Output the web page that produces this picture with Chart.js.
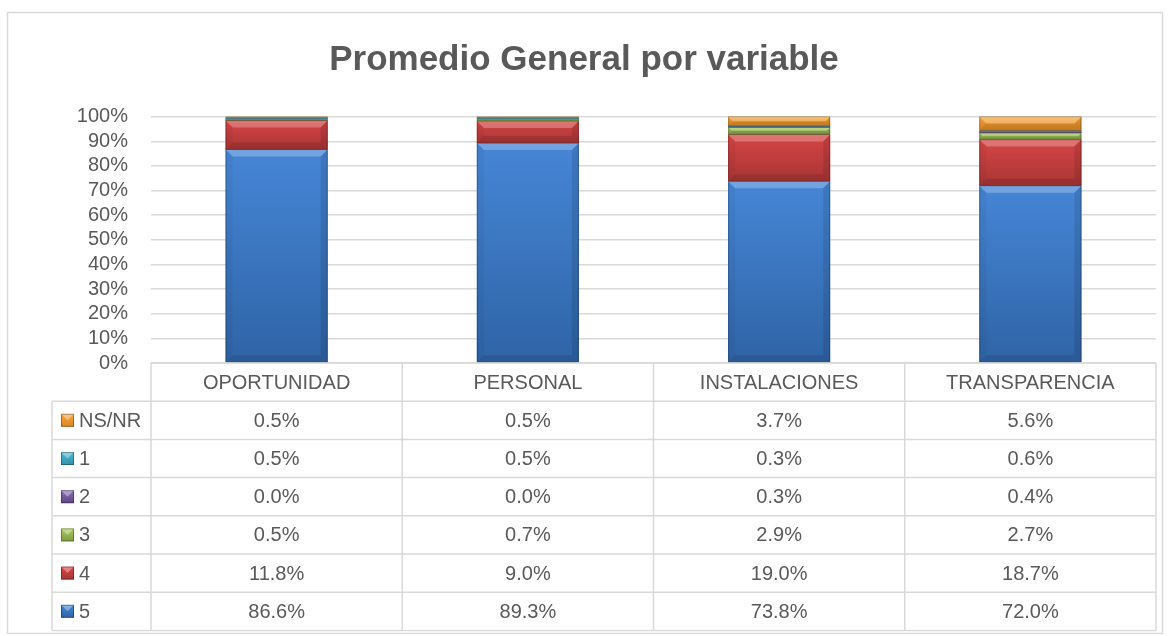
<!DOCTYPE html>
<html><head><meta charset="utf-8">
<script src="https://cdn.jsdelivr.net/npm/chart.js@4/dist/chart.umd.min.js"></script>
<style>html,body{margin:0;padding:0;background:#fff;}#wrap{width:1170px;height:636px;}</style>
</head><body><div id="wrap"><canvas id="c" width="1170" height="636"></canvas></div>
<script>
// ---- data ----
const categories = ['OPORTUNIDAD', 'PERSONAL', 'INSTALACIONES', 'TRANSPARENCIA'];
const seriesNames = ['5', '4', '3', '2', '1', 'NS/NR'];
const s5   = [86.6, 89.3, 73.8, 72.0];
const s4   = [11.8, 9.0, 19.0, 18.7];
const s3   = [0.5, 0.7, 2.9, 2.7];
const s2   = [0.0, 0.0, 0.3, 0.4];
const s1   = [0.5, 0.5, 0.3, 0.6];
const sNS  = [0.5, 0.5, 3.7, 5.6];
const yTickValues = [0, 10, 20, 30, 40, 50, 60, 70, 80, 90, 100];
const titleText = 'Promedio General por variable';

// ---- styles ----
const FONT = "'Liberation Sans', Arial, sans-serif";
const TXT = '#595959';
const LINE = '#d9d9d9';
const colors = {
  '5': ['#4686d6', '#2f64a6'],
  '4': ['#d64545', '#a83535'],
  '3': ['#a9cb60', '#7d9c40'],
  '2': ['#8c6db4', '#604684'],
  '1': ['#4dbdd7', '#3190aa'],
  'NS/NR': ['#f9a83e', '#db8421']
};
const rawSeries = [s5, s4, s3, s2, s1, sNS];
const totals = categories.map((c, i) => rawSeries.reduce((a, s) => a + s[i], 0));

const datasets = rawSeries.map((s, k) => ({
  label: seriesNames[k],
  raw: s,
  data: s.map((v, i) => v / totals[i] * 100),
  backgroundColor: colors[seriesNames[k]][0],
  borderWidth: 0,
  categoryPercentage: 1,
  barPercentage: 0.406
}));

const frame = {
  id: 'frame',
  beforeDraw(chart) {
    const ctx = chart.ctx;
    ctx.save();
    ctx.fillStyle = '#fff';
    ctx.fillRect(0, 0, chart.width, chart.height);
    ctx.strokeStyle = LINE; ctx.lineWidth = 1.5;
    ctx.strokeRect(7.5, 12.5, 1155, 621);
    ctx.restore();
  }
};

const bevel = {
  id: 'bevel',
  afterDatasetsDraw(chart) {
    const ctx = chart.ctx;
    chart.data.datasets.forEach((ds, di) => {
      const meta = chart.getDatasetMeta(di);
      const [c1, c2] = colors[ds.label];
      meta.data.forEach(el => {
        const L = el.x - el.width / 2, R = el.x + el.width / 2;
        const T = Math.min(el.y, el.base), B = Math.max(el.y, el.base);
        const h = B - T;
        if (h <= 0.01) return;
        ctx.save();
        const g = ctx.createLinearGradient(0, T, 0, B);
        g.addColorStop(0, c1); g.addColorStop(1, c2);
        ctx.fillStyle = g;
        ctx.fillRect(L, T, R - L, h);
        const b = Math.min(7, h / 2);
        const poly = (pts, fill) => {
          ctx.beginPath(); ctx.moveTo(pts[0][0], pts[0][1]);
          for (let i = 1; i < pts.length; i++) ctx.lineTo(pts[i][0], pts[i][1]);
          ctx.closePath(); ctx.fillStyle = fill; ctx.fill();
        };
        poly([[L, T], [R, T], [R - b, T + b], [L + b, T + b]], 'rgba(255,255,255,0.25)');
        poly([[L, T], [L + b, T + b], [L + b, B - b], [L, B]], 'rgba(0,0,0,0.04)');
        poly([[R, T], [R, B], [R - b, B - b], [R - b, T + b]], 'rgba(0,0,0,0.10)');
        poly([[L, B], [L + b, B - b], [R - b, B - b], [R, B]], 'rgba(0,0,0,0.10)');
        ctx.strokeStyle = 'rgba(0,0,0,0.22)'; ctx.lineWidth = 1;
        ctx.strokeRect(L + 0.5, T, R - L - 1, h);
        ctx.restore();
      });
    });
  }
};

const table = {
  id: 'table',
  afterDraw(chart) {
    const ctx = chart.ctx, xs = chart.scales.x, area = chart.chartArea;
    const top = area.bottom, rh = 38.2, nRows = 7;
    const half = (xs.getPixelForValue(1) - xs.getPixelForValue(0)) / 2;
    const colL = xs.getPixelForValue(0) - half, colR = xs.getPixelForValue(categories.length - 1) + half;
    const legL = 52;
    const bottom = top + rh * nRows;
    ctx.save();
    ctx.strokeStyle = LINE; ctx.lineWidth = 1.5;
    ctx.beginPath();
    ctx.moveTo(colL, top); ctx.lineTo(colR, top);
    for (let r = 1; r <= nRows; r++) {
      const y = top + r * rh;
      ctx.moveTo(legL, y); ctx.lineTo(colR, y);
    }
    for (let k = 0; k <= categories.length; k++) {
      const x = colL + k * half * 2;
      ctx.moveTo(x, top); ctx.lineTo(x, bottom);
    }
    ctx.moveTo(legL, top + rh); ctx.lineTo(legL, bottom);
    ctx.stroke();

    ctx.fillStyle = TXT;
    ctx.font = '20px ' + FONT;
    ctx.textAlign = 'center'; ctx.textBaseline = 'middle';
    categories.forEach((c, i) => ctx.fillText(c, xs.getPixelForValue(i), top + rh / 2 + 1));

    const order = chart.data.datasets.slice().reverse();
    order.forEach((ds, r) => {
      const yc = top + (r + 1) * rh + rh / 2 + 1;
      ds.raw.forEach((v, i) => {
        ctx.fillStyle = TXT; ctx.textAlign = 'center';
        ctx.fillText(v.toFixed(1) + '%', xs.getPixelForValue(i), yc);
      });
      // legend key
      const [c1, c2] = colors[ds.label];
      const kx = 61, ks = 13, ky = yc - 1 - ks / 2;
      const g = ctx.createLinearGradient(0, ky, 0, ky + ks);
      g.addColorStop(0, c1); g.addColorStop(1, c2);
      ctx.fillStyle = g; ctx.fillRect(kx, ky, ks, ks);
      ctx.beginPath(); ctx.moveTo(kx, ky); ctx.lineTo(kx + ks, ky); ctx.lineTo(kx + ks / 2, ky + ks / 2); ctx.closePath();
      ctx.fillStyle = 'rgba(255,255,255,0.35)'; ctx.fill();
      ctx.strokeStyle = 'rgba(0,0,0,0.3)'; ctx.lineWidth = 1;
      ctx.strokeRect(kx + 0.5, ky + 0.5, ks - 1, ks - 1);
      ctx.fillStyle = TXT; ctx.textAlign = 'left';
      ctx.fillText(ds.label, 79, yc);
    });
    ctx.restore();
  }
};

new Chart(document.getElementById('c'), {
  type: 'bar',
  data: { labels: categories, datasets },
  options: {
    responsive: false,
    devicePixelRatio: 1,
    animation: false,
    layout: { padding: { left: 12, right: 14, top: 0, bottom: 273 } },
    plugins: {
      legend: { display: false },
      tooltip: { enabled: false },
      title: {
        display: true, text: titleText, color: TXT,
        font: { family: FONT, size: 35, weight: 'bold', lineHeight: 1.2 },
        padding: { top: 39, bottom: 35.7 }
      }
    },
    scales: {
      x: { stacked: true, display: false },
      y: {
        stacked: true, min: 0, max: 100,
        afterFit(s) { s.width = 139; },
        afterBuildTicks(s) { s.ticks = yTickValues.map(v => ({ value: v })); },
        border: { display: false },
        grid: { color: LINE, lineWidth: 1.5, drawTicks: false },
        ticks: { autoSkip: false, padding: 23, color: TXT, font: { family: FONT, size: 20 }, callback: v => v + '%' }
      }
    }
  },
  plugins: [frame, bevel, table]
});
</script></body></html>
